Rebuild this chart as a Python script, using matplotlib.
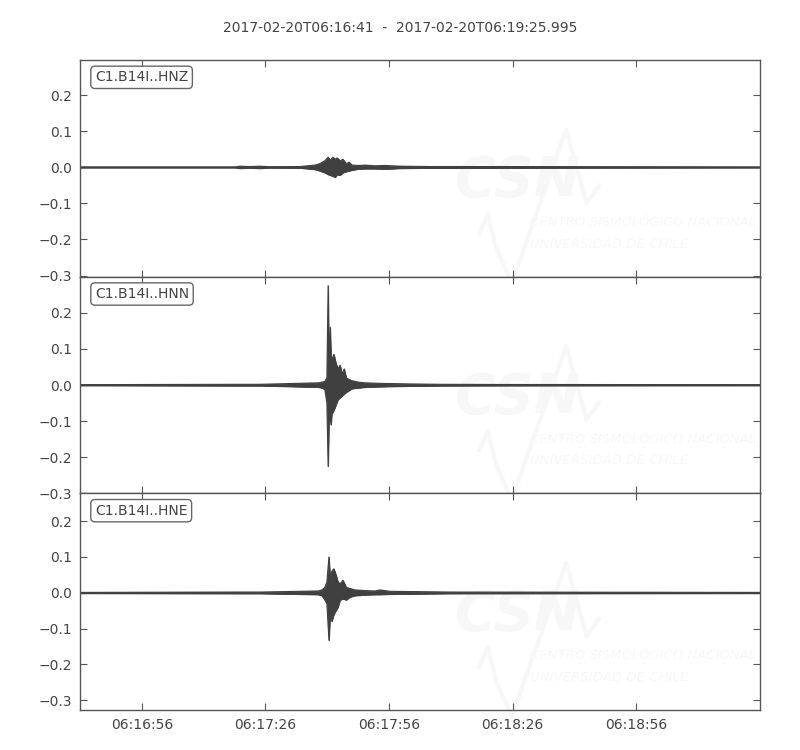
import matplotlib
matplotlib.use("Agg")
import matplotlib.pyplot as plt
import numpy as np

# seismogram C1.B14I, 2017-02-20, start 06:16:41, end 06:19:25.995
# traces drawn as amplitude envelopes (seconds after start, m/s^2)
title = "2017-02-20T06:16:41  -  2017-02-20T06:19:25.995"
duration = 164.995
channels = ["C1.B14I..HNZ", "C1.B14I..HNN", "C1.B14I..HNE"]
tick_secs = [15, 45, 75, 105, 135]
tick_labels = ["06:16:56", "06:17:26", "06:17:56", "06:18:26", "06:18:56"]

hnz_t = [0, 37.6, 38.8, 41.0, 43.7, 46.0, 53.4, 57.0, 58.2, 59.4, 60.2, 60.7, 61.4, 61.9,
         62.4, 63.1, 63.8, 64.6, 65.3, 66.0, 67.5, 69.2, 71.6, 74.0, 77.7, 85.0, 101.9,
         126.0, 164.995]
hnz_up = [0.001, 0.001, 0.003, 0.002, 0.003, 0.0015, 0.002, 0.006, 0.010, 0.018, 0.028,
          0.020, 0.028, 0.022, 0.026, 0.018, 0.022, 0.010, 0.014, 0.006, 0.005, 0.006,
          0.004, 0.005, 0.003, 0.002, 0.002, 0.0015, 0.001]
hnz_dn = [-0.001, -0.001, -0.003, -0.002, -0.003, -0.0015, -0.002, -0.006, -0.010, -0.015,
          -0.020, -0.022, -0.025, -0.028, -0.020, -0.022, -0.015, -0.012, -0.010, -0.008,
          -0.005, -0.004, -0.004, -0.005, -0.003, -0.002, -0.002, -0.0015, -0.001]

hnn_t = [0, 38.8, 43.7, 57.8, 58.7, 59.4, 59.9, 60.2, 60.4, 60.7, 60.9, 61.1, 61.6, 62.1,
         62.6, 63.1, 63.6, 64.1, 64.6, 65.3, 66.0, 67.5, 69.2, 71.6, 75.2, 80.1, 87.4,
         102.0, 164.995]
hnn_up = [0.001, 0.002, 0.002, 0.006, 0.008, 0.010, 0.020, 0.275, 0.060, 0.160, 0.080,
          0.070, 0.085, 0.060, 0.045, 0.055, 0.030, 0.045, 0.020, 0.015, 0.012, 0.008,
          0.006, 0.005, 0.004, 0.003, 0.002, 0.0015, 0.001]
hnn_dn = [-0.001, -0.002, -0.002, -0.006, -0.008, -0.012, -0.050, -0.225, -0.100, -0.090,
          -0.110, -0.080, -0.070, -0.055, -0.040, -0.035, -0.030, -0.025, -0.020, -0.015,
          -0.010, -0.008, -0.006, -0.005, -0.004, -0.003, -0.002, -0.0015, -0.001]

hne_t = [0, 38.8, 43.7, 57.8, 58.7, 59.4, 59.9, 60.4, 60.7, 61.1, 61.6, 62.1, 62.6, 63.1,
         63.8, 64.6, 65.5, 66.7, 69.2, 71.6, 72.8, 75.2, 82.5, 89.8, 164.995]
hne_up = [0.001, 0.002, 0.002, 0.005, 0.008, 0.015, 0.030, 0.100, 0.040, 0.060, 0.067,
          0.050, 0.030, 0.025, 0.035, 0.015, 0.012, 0.008, 0.006, 0.005, 0.008, 0.004,
          0.003, 0.002, 0.001]
hne_dn = [-0.001, -0.002, -0.002, -0.005, -0.008, -0.020, -0.030, -0.133, -0.060, -0.080,
          -0.060, -0.050, -0.040, -0.020, -0.017, -0.020, -0.012, -0.008, -0.006, -0.005,
          -0.005, -0.004, -0.003, -0.002, -0.001]

traces = [(hnz_t, hnz_up, hnz_dn), (hnn_t, hnn_up, hnn_dn), (hne_t, hne_up, hne_dn)]
ylims = [(-0.303, 0.297), (-0.3, 0.3), (-0.328, 0.278)]

txt = "#444444"
line_col = "#404040"
wm = "#f7f7f7"

fig = plt.figure(figsize=(8, 7.5), dpi=100)
axes = fig.subplots(3, 1, sharex=True)
fig.subplots_adjust(left=0.1, right=0.95, top=0.92, bottom=0.0533, hspace=0)

for ax, name, (t, up, dn), yl in zip(axes, channels, traces, ylims):
    # faint CSN watermark
    ax.text(0.552, 0.44, "CSN", transform=ax.transAxes, fontsize=40, fontweight="bold",
            style="italic", color=wm, ha="left", va="center", zorder=0)
    wx = [0.587, 0.600, 0.612, 0.635, 0.715, 0.745, 0.763]
    wy = [0.20, 0.29, 0.13, -0.03, 0.68, 0.34, 0.42]
    ax.plot(wx, wy, transform=ax.transAxes, color=wm, lw=3, zorder=0, clip_on=False)
    ax.text(0.662, 0.25, "CENTRO SISMOLÓGICO NACIONAL", transform=ax.transAxes,
            fontsize=9.5, style="italic", color=wm, ha="left", va="center", zorder=0,
            clip_on=True)
    ax.text(0.662, 0.15, "UNIVERSIDAD DE CHILE", transform=ax.transAxes,
            fontsize=9.5, style="italic", color=wm, ha="left", va="center", zorder=0,
            clip_on=True)

    ax.fill_between(t, dn, up, color=line_col, lw=0.6, zorder=2)
    ax.plot(t, up, color=line_col, lw=0.8, zorder=2)
    ax.plot(t, dn, color=line_col, lw=0.8, zorder=2)
    ax.plot([t[0], t[-1]], [0, 0], color=line_col, lw=1.0, zorder=2)

    ax.set_ylim(*yl)
    ax.set_xlim(0, duration)
    ax.set_yticks([-0.3, -0.2, -0.1, 0.0, 0.1, 0.2])
    ax.set_yticklabels(["\u22120.3", "\u22120.2", "\u22120.1", "0.0", "0.1", "0.2"])
    ax.tick_params(direction="in", top=True, right=True, length=5, width=0.8,
                   color="#555555", labelcolor=txt, labelsize=10, pad=6)
    for s in ax.spines.values():
        s.set_color("#555555")
        s.set_linewidth(1.0)
    ax.text(0.022, 0.92, name, transform=ax.transAxes, fontsize=10, color=txt,
            ha="left", va="center", zorder=5,
            bbox=dict(boxstyle="round,pad=0.3", fc="white", ec="#666666", lw=1))

axes[-1].set_xticks(tick_secs)
axes[-1].set_xticklabels(tick_labels)
fig.suptitle(title, y=0.972, fontsize=10, color=txt)

fig.savefig("out.png", dpi=100)
